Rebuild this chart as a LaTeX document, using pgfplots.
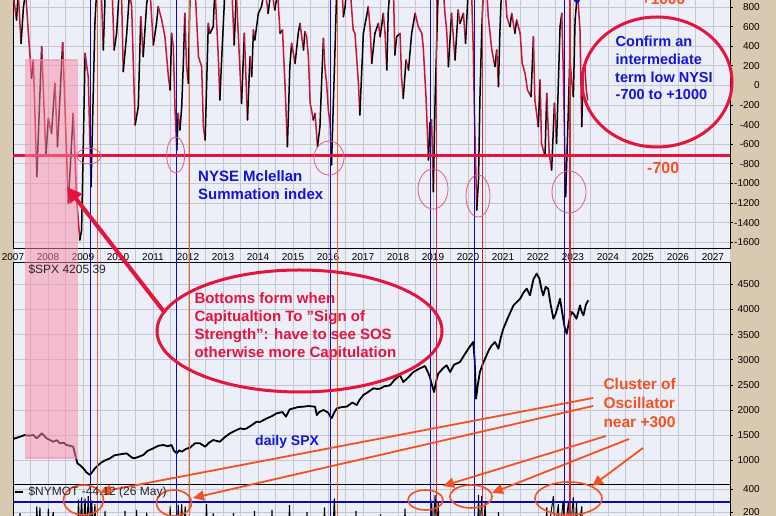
\documentclass[border=0pt]{standalone}
\usepackage{pgfplots}
\pgfplotsset{compat=1.18}
\usepackage{fontspec}
\setmainfont{Liberation Sans}
\usetikzlibrary{arrows.meta}

\definecolor{tanbg}{RGB}{216,202,176}
\definecolor{plotbg}{RGB}{236,238,248}
\definecolor{gridc}{RGB}{196,198,210}
\definecolor{nysired}{RGB}{200,20,55}
\definecolor{crim}{RGB}{228,20,62}
\definecolor{orng}{RGB}{244,82,32}
\definecolor{txtblue}{RGB}{20,20,215}
\definecolor{vblue}{RGB}{10,10,185}
\definecolor{vorange}{RGB}{235,100,45}
\definecolor{vred}{RGB}{220,35,60}
\definecolor{thinpink}{RGB}{230,90,130}
\definecolor{pinkbox}{RGB}{250,140,165}

\pgfplotsset{
  panel/.style={
    scale only axis, width=717pt, anchor=south west,
    xmin=2007, xmax=2027.486,
    axis line style={black, line width=0.8pt},
    axis background/.style={fill=plotbg},
    grid=both,
    grid style={draw=gridc, line width=0.6pt},
    minor grid style={draw=gridc, line width=0.6pt},
    xtick={2007,...,2027},
    minor xtick={2007.5,2008.5,...,2027.5},
    xtick style={draw=none}, minor tick style={draw=none},
    ytick pos=right, tick align=outside, major tick length=3pt,
    ytick style={black, line width=0.6pt},
    yticklabel pos=right,
    yticklabel style={font=\fontsize{10}{12}\selectfont, anchor=east, inner sep=0pt, xshift=27pt},
    /pgf/number format/.cd, 1000 sep={}, assume math mode=true,
  },
}

\begin{document}
\begin{tikzpicture}[x=1pt,y=1pt]
\useasboundingbox (0,0) rectangle (776,516);
\fill[tanbg] (0,0) rectangle (776,516);
\fill[plotbg] (13,0) rectangle (730,516);
\clip (0,0) rectangle (776,516);

% gap between the two upper panels: half-year grid
\foreach \i in {0,...,40} \draw[gridc, line width=0.6pt] ({13+17.5*\i},254) -- ({13+17.5*\i},268);

% ---------------- NYSE McClellan Summation Index ----------------
\begin{axis}[panel, at={(13pt,268pt)}, height=252pt,
  ymin=-1659, ymax=912,
  ytick={-1600,-1400,...,800},
  xticklabel style={font=\fontsize{10}{12}\selectfont, anchor=north, inner sep=0pt, yshift=-2pt},
  xticklabels={2007,2008,2009,2010,2011,2012,2013,2014,2015,2016,2017,2018,2019,2020,2021,2022,2023,2024,2025,2026,2027},
  colormap={nysi}{color(0cm)=(nysired) color(1cm)=(black)},
  point meta min=0, point meta max=1,
]
\addplot[mesh, shader=flat corner, line width=1.5pt, line cap=round, point meta=explicit]
  table[x index=0, y index=1, meta index=2] {
2007.00 950 0
2007.10 667 1
2007.15 950 0
2007.23 429 1
2007.30 803 1
2007.36 950 0
2007.44 531 0
2007.53 72 1
2007.58 259 0
2007.68 -932 1
2007.82 395 0
2007.94 -727 1
2008.01 -336 0
2008.10 -489 1
2008.20 21 0
2008.27 -625 1
2008.42 436 0
2008.58 -1204 1
2008.72 -285 0
2008.82 -1170 0
2008.91 -1578 1
2008.96 -1476 1
2009.06 327 0
2009.15 89 0
2009.23 -1034 1
2009.34 633 1
2009.41 1100 0
2009.52 1000 0
2009.58 361 1
2009.64 1000 1
2009.70 1100 0
2009.83 1000 0
2009.89 361 1
2009.96 531 1
2010.04 1000 0
2010.10 950 0
2010.15 140 1
2010.25 531 1
2010.33 950 0
2010.39 803 0
2010.49 -404 1
2010.58 -217 1
2010.65 701 0
2010.72 293 1
2010.82 837 1
2010.91 1000 0
2011.01 412 1
2011.10 633 1
2011.15 803 0
2011.25 667 0
2011.34 497 0
2011.44 89 0
2011.49 -47 1
2011.53 531 0
2011.58 395 0
2011.63 -251 0
2011.68 -659 1
2011.72 -285 0
2011.77 -455 1
2011.82 -217 1
2011.87 259 1
2011.91 735 0
2011.96 191 0
2012.01 21 1
2012.06 1000 0
2012.20 1000 0
2012.30 293 0
2012.39 191 0
2012.44 -421 0
2012.49 -557 1
2012.58 633 0
2012.63 531 1
2012.72 599 1
2012.77 1000 0
2012.87 259 0
2012.91 -149 1
2012.96 259 1
2013.06 1000 0
2013.25 1000 0
2013.32 412 1
2013.38 950 0
2013.53 -183 1
2013.61 531 0
2013.70 -353 1
2013.77 293 0
2013.82 89 1
2013.87 565 0
2013.91 463 1
2014.01 735 1
2014.10 803 1
2014.20 1000 0
2014.29 735 1
2014.38 1000 0
2014.48 769 1
2014.56 950 0
2014.63 531 1
2014.70 565 0
2014.77 21 0
2014.84 -625 1
2014.91 191 1
2014.96 429 0
2015.06 225 1
2015.15 531 1
2015.20 633 0
2015.30 361 1
2015.34 548 0
2015.39 497 0
2015.44 293 0
2015.49 -183 0
2015.53 -251 0
2015.58 -353 1
2015.63 -285 0
2015.70 -625 1
2015.77 -421 1
2015.82 55 1
2015.87 480 0
2015.91 191 0
2015.96 21 0
2016.01 -251 0
2016.06 -387 0
2016.10 -812 1
2016.15 -217 1
2016.20 361 1
2016.25 1000 0
2016.40 1000 0
2016.44 701 1
2016.49 803 1
2016.53 1000 0
2016.63 1000 0
2016.72 565 0
2016.77 531 0
2016.87 21 0
2016.91 -302 1
2017.01 531 1
2017.10 701 1
2017.15 803 0
2017.20 599 0
2017.25 225 1
2017.34 531 1
2017.44 633 0
2017.49 497 1
2017.58 735 0
2017.63 531 0
2017.68 157 1
2017.72 735 1
2017.77 1000 0
2017.87 1000 0
2017.91 310 1
2017.96 497 1
2018.06 531 0
2018.10 89 0
2018.15 -132 1
2018.23 259 0
2018.30 157 1
2018.39 531 1
2018.49 735 0
2018.58 599 0
2018.68 531 0
2018.72 395 0
2018.80 -115 0
2018.87 -761 1
2018.91 -387 1
2018.96 -353 0
2019.01 -1085 1
2019.06 -149 1
2019.10 361 1
2019.15 1000 0
2019.29 1000 0
2019.34 735 0
2019.39 565 0
2019.44 191 1
2019.53 735 0
2019.63 259 1
2019.72 769 0
2019.77 633 1
2019.87 735 0
2019.93 429 1
2020.01 1000 0
2020.10 1000 0
2020.15 361 0
2020.18 -217 0
2020.25 -1272 1
2020.30 -966 1
2020.34 -149 1
2020.39 531 1
2020.44 1000 0
2020.53 1000 0
2020.58 701 0
2020.68 361 0
2020.77 191 1
2020.82 361 0
2020.87 -13 1
2020.91 531 1
2020.96 1000 0
2021.06 1000 0
2021.11 701 0
2021.20 599 1
2021.25 735 0
2021.34 531 1
2021.39 667 0
2021.49 531 0
2021.55 225 0
2021.63 123 0
2021.70 -47 0
2021.80 -115 1
2021.87 497 0
2021.91 -149 0
2022.01 -421 1
2022.06 55 0
2022.10 -591 0
2022.20 -727 1
2022.25 -81 0
2022.32 -693 0
2022.39 -864 1
2022.47 -183 0
2022.53 -591 1
2022.63 599 1
2022.68 735 0
2022.72 191 0
2022.79 -1136 1
2022.87 -217 1
2022.91 293 0
2022.96 55 0
2023.01 -115 1
2023.06 667 1
2023.10 837 1
2023.14 880 0
2023.20 565 0
2023.25 -421 1
2023.29 157 1
2023.34 191 0
2023.38 -47 0
2023.42 -149 0
};
\end{axis}

% ---------------- daily SPX ----------------
\begin{axis}[panel, at={(13pt,32pt)}, height=222pt,
  ymin=530, ymax=4943,
  ytick={1000,1500,...,4500},
  xticklabels={},
]
\addplot[black, line width=1.8pt, line join=round] coordinates {
(2007.00,1420) (2007.06,1438) (2007.20,1470) (2007.34,1504) (2007.45,1490) (2007.58,1504)
(2007.68,1438) (2007.82,1537) (2007.96,1438) (2008.15,1371) (2008.25,1400) (2008.34,1338)
(2008.45,1350) (2008.53,1305) (2008.62,1290) (2008.72,1272) (2008.84,940) (2008.92,900)
(2009.01,841) (2009.10,760) (2009.20,709) (2009.34,841) (2009.49,940) (2009.60,990)
(2009.77,1040) (2009.90,1100) (2010.06,1120) (2010.25,1139) (2010.35,1080) (2010.44,1040)
(2010.55,1060) (2010.72,1106) (2010.85,1190) (2011.01,1239) (2011.15,1290) (2011.30,1305)
(2011.42,1280) (2011.53,1305) (2011.60,1190) (2011.68,1139) (2011.75,1200) (2011.82,1172)
(2011.95,1230) (2012.06,1252) (2012.20,1340) (2012.34,1338) (2012.49,1272) (2012.60,1350)
(2012.72,1404) (2012.85,1380) (2012.91,1371) (2013.05,1460) (2013.20,1537) (2013.35,1590)
(2013.49,1636) (2013.60,1620) (2013.68,1636) (2013.82,1700) (2013.96,1769) (2014.05,1760)
(2014.25,1835) (2014.40,1880) (2014.53,1934) (2014.70,1960) (2014.80,1868) (2014.90,2010)
(2015.01,2034) (2015.15,2060) (2015.30,2067) (2015.45,2080) (2015.63,2067) (2015.68,1901)
(2015.75,1960) (2015.87,2001) (2016.00,1950) (2016.10,1835) (2016.18,1950) (2016.25,2034)
(2016.40,2060) (2016.53,2067) (2016.70,2150) (2016.82,2100) (2016.90,2200) (2017.01,2299)
(2017.15,2360) (2017.30,2432) (2017.40,2420) (2017.49,2425) (2017.60,2470) (2017.77,2491)
(2017.90,2600) (2018.06,2690) (2018.15,2557) (2018.25,2620) (2018.44,2756) (2018.60,2820)
(2018.77,2875) (2018.85,2760) (2018.91,2657) (2018.97,2500) (2019.03,2359) (2019.10,2600)
(2019.15,2723) (2019.30,2840) (2019.39,2889) (2019.49,2756) (2019.60,2900) (2019.77,2955)
(2019.90,3100) (2020.01,3220) (2020.15,3353) (2020.19,3000) (2020.23,2226) (2020.28,2500)
(2020.34,2756) (2020.44,2950) (2020.53,3087) (2020.60,3200) (2020.68,3286) (2020.77,3353)
(2020.87,3220) (2020.94,3450) (2021.01,3618) (2021.15,3850) (2021.30,4081) (2021.40,4150)
(2021.49,4214) (2021.60,4350) (2021.68,4413) (2021.77,4280) (2021.87,4600) (2021.96,4711)
(2022.04,4612) (2022.10,4400) (2022.15,4280) (2022.22,4450) (2022.29,4413) (2022.36,4100)
(2022.44,3816) (2022.50,3900) (2022.63,4214) (2022.70,3900) (2022.76,3650) (2022.82,3518)
(2022.90,3800) (2022.96,3949) (2023.03,3900) (2023.10,3816) (2023.20,4081) (2023.25,3950)
(2023.30,3883) (2023.37,4100) (2023.44,4181)
};
\end{axis}

% ---------------- $NYMOT ----------------
\begin{axis}[panel, at={(13pt,-4pt)}, height=36pt,
  ymin=130, ymax=447,
  ytick={200,400},
  xticklabels={},
]
\addplot[black, line width=1pt] coordinates {
(2007.00,0) (2007.17,0) (2007.20,190) (2007.23,0)
(2007.65,0) (2007.68,250) (2007.72,0) (2007.77,240) (2007.80,0)
(2007.98,0) (2008.01,230) (2008.05,0) (2008.15,200) (2008.18,0)
(2008.84,0) (2008.87,310) (2008.91,0) (2008.96,330) (2009.00,0) (2009.06,320) (2009.10,0)
(2009.15,340) (2009.20,0) (2009.25,300) (2009.29,0) (2009.34,270) (2009.38,0)
(2009.60,0) (2009.63,210) (2009.66,0)
(2010.17,0) (2010.20,210) (2010.23,0)
(2010.50,0) (2010.53,220) (2010.56,0)
(2010.79,0) (2010.82,195) (2010.85,0)
(2011.46,0) (2011.49,250) (2011.52,0)
(2011.69,0) (2011.72,265) (2011.76,0) (2011.82,270) (2011.86,0) (2011.92,250) (2011.95,0)
(2012.50,0) (2012.53,270) (2012.56,0)
(2012.69,0) (2012.72,190) (2012.75,0)
(2013.27,0) (2013.30,190) (2013.33,0)
(2013.87,0) (2013.90,210) (2013.93,0)
(2014.37,0) (2014.40,220) (2014.43,0)
(2014.87,0) (2014.90,260) (2014.93,0)
(2015.37,0) (2015.40,200) (2015.43,0)
(2015.87,0) (2015.90,240) (2015.93,0)
(2016.14,0) (2016.18,320) (2016.22,0)
(2016.77,0) (2016.80,210) (2016.83,0)
(2017.47,0) (2017.50,180) (2017.53,0)
(2018.17,0) (2018.20,230) (2018.23,0)
(2018.93,0) (2018.96,300) (2019.00,0) (2019.06,350) (2019.10,0) (2019.15,280) (2019.18,0)
(2020.27,0) (2020.30,350) (2020.34,0) (2020.39,340) (2020.44,0) (2020.49,280) (2020.52,0)
(2020.84,0) (2020.87,200) (2020.90,0)
(2022.22,0) (2022.25,240) (2022.28,0) (2022.44,340) (2022.48,0) (2022.58,270) (2022.62,0)
(2022.72,300) (2022.76,0) (2022.87,290) (2022.91,0) (2023.01,330) (2023.05,0)
(2023.10,280) (2023.14,0) (2023.25,250) (2023.28,0) (2023.42,0)
};
\end{axis}

% ---------------- annotations, in image pixels (y downwards) ----------------
\begin{scope}[yshift=516pt, y=-1pt, x=1pt]
  % signal lines
  \foreach \xb/\xr/\cc in {90.7/97.3/vorange, 176.7/189.3/vorange, 330.7/337.3/vorange,
                           430.7/436.7/vred, 474.3/482.3/vred, 564.3/570/vred} {
    \draw[vblue, line width=1.1pt] (\xb,0) -- (\xb,516);
    \draw[\cc, line width=1.1pt] (\xr,0) -- (\xr,516);
  }
  % levels
  \draw[crim, line width=2.4pt] (13,155.6) -- (730,155.6);
  \draw[vblue, line width=2.4pt] (13,502) -- (730,502);
  % capitulation box
  \fill[pinkbox, opacity=0.5] (25.7,60) rectangle (77.3,458);
  \draw[pinkbox, opacity=0.6, line width=1.5pt] (25.7,60) rectangle (77.3,458);
  % small ellipses round the lows
  \foreach \cx/\cy/\rx/\ry in {89/156/12/8, 175.7/155/9/18, 329/158/15/17,
                                433/189/15/20, 478/196/12/21, 569/192/17/21}
    \draw[thinpink, line width=0.8pt] (\cx,\cy) ellipse [x radius=\rx pt, y radius=\ry pt];
  \fill[vblue] (577,0) circle [radius=3pt];
  % big ellipses
  \draw[crim, line width=3pt] (657,82) ellipse [x radius=75pt, y radius=65pt];
  \draw[crim, line width=3pt] (299.5,331) ellipse [x radius=142.5pt, y radius=61pt];
  \draw[crim, line width=4pt, -{Triangle[length=15pt,width=15pt]}] (165,313) -- (67,187);
  % oscillator clusters
  \foreach \cx/\cy/\rx/\ry in {83.5/500/20/15, 174/503/17.5/13, 425.5/500/17.5/10,
                                471/496.5/21/11.5, 568.5/498.5/33.5/16.5}
    \draw[orng, line width=1.6pt] (\cx,\cy) ellipse [x radius=\rx pt, y radius=\ry pt];
  \foreach \xa/\ya/\xe/\ye in {593/398/100/492, 593/406/193/498, 606/436/443/486,
                               629/439/492/493, 643/448/592/486}
    \draw[orng, line width=1.8pt, -{Triangle[length=11pt,width=10pt]}] (\xa,\ya) -- (\xe,\ye);
  % texts
  \begin{scope}[every node/.style={anchor=base west, inner sep=0pt}]
    \node[font=\fontsize{15}{18}\selectfont\bfseries, txtblue] at (198,181.7) {NYSE Mclellan};
    \node[font=\fontsize{15}{18}\selectfont\bfseries, txtblue] at (198,199.3) {Summation index};
    \node[font=\fontsize{14.5}{18}\selectfont\bfseries, txtblue] at (615.5,46.7) {Confirm an};
    \node[font=\fontsize{14.5}{18}\selectfont\bfseries, txtblue] at (615.5,64.3) {intermediate};
    \node[font=\fontsize{14.5}{18}\selectfont\bfseries, txtblue] at (615,82.7) {term low NYSI};
    \node[font=\fontsize{14.5}{18}\selectfont\bfseries, txtblue] at (615.5,100) {-700 to +1000};
    \node[font=\fontsize{15.5}{18}\selectfont\bfseries, orng] at (641.5,5) {+1000};
    \node[font=\fontsize{16}{18}\selectfont\bfseries, orng] at (647,174) {-700};
    \node[font=\fontsize{15}{18}\selectfont\bfseries, crim] at (194.3,303.3) {Bottoms form when};
    \node[font=\fontsize{15}{18}\selectfont\bfseries, crim] at (194.3,321.3) {Capitualtion To "Sign of};
    \node[font=\fontsize{15}{18}\selectfont\bfseries, crim] at (194.3,339.8) {Strength": have to see SOS};
    \node[font=\fontsize{15}{18}\selectfont\bfseries, crim] at (194.3,357.7) {otherwise more Capitulation};
    \node[font=\fontsize{14}{18}\selectfont\bfseries, txtblue] at (255,445.7) {daily SPX};
    \node[font=\fontsize{15.5}{18}\selectfont\bfseries, orng] at (603.3,390) {Cluster of};
    \node[font=\fontsize{15.5}{18}\selectfont\bfseries, orng] at (603.3,409) {Oscillator};
    \node[font=\fontsize{15.5}{18}\selectfont\bfseries, orng] at (603.3,427.7) {near +300};
    \node[font=\fontsize{12}{14}\selectfont, black!85] at (28.3,273.3) {\$SPX 4205.39};
    \node[font=\fontsize{12}{14}\selectfont, black!85] at (28.3,495.7) {\$NYMOT -44.12 (26 May)};
  \end{scope}
  \draw[black, line width=2pt] (15,492) -- (23,492);
\end{scope}
\end{tikzpicture}
\end{document}
